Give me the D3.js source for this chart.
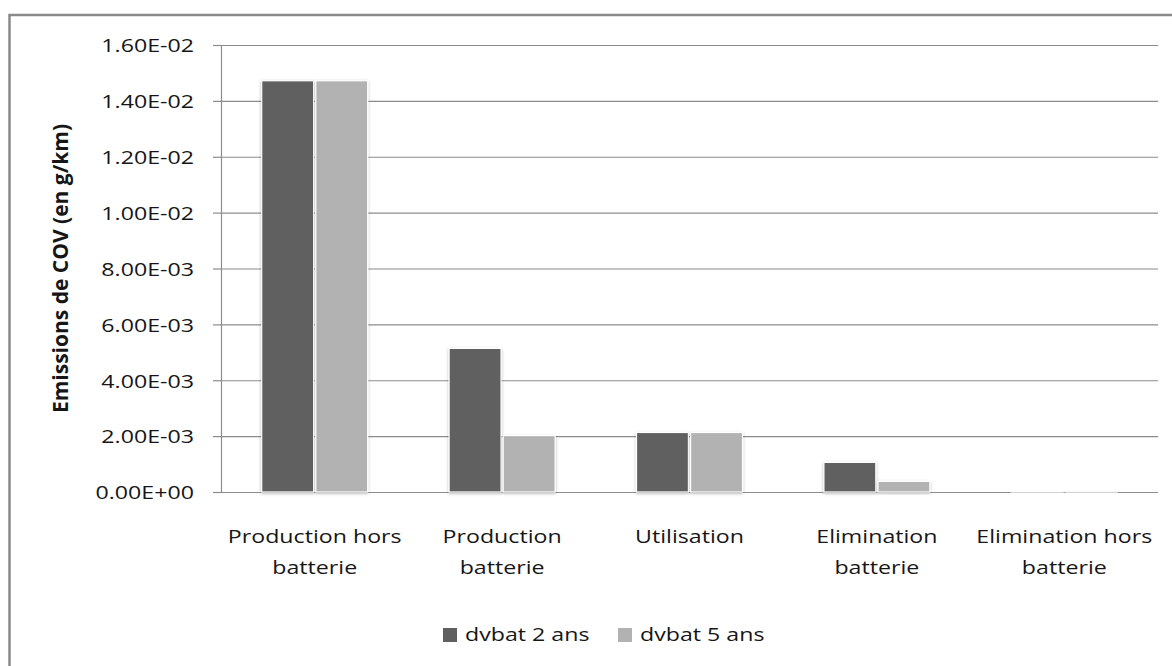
<!DOCTYPE html>
<html>
<head>
<meta charset="utf-8">
<script src="https://cdn.jsdelivr.net/npm/d3@7"></script>
<style>
  html, body { margin: 0; padding: 0; background: #fff; }
  svg { display: block; }
  text { font-family: "Open Sans", "Liberation Sans", sans-serif; fill: #161616; }
</style>
</head>
<body>
<svg id="chart" width="1172" height="666"></svg>
<script>
// ---- data ----
const categories = ["Production hors batterie", "Production batterie", "Utilisation", "Elimination batterie", "Elimination hors batterie"];
const categoryLines = [["Production hors", "batterie"], ["Production", "batterie"], ["Utilisation"], ["Elimination", "batterie"], ["Elimination hors", "batterie"]];
const seriesNames = ["dvbat 2 ans", "dvbat 5 ans"];
const dvbat2 = [1.472e-2, 5.14e-3, 2.13e-3, 1.06e-3, 1.5e-5];
const dvbat5 = [1.472e-2, 2.02e-3, 2.13e-3, 3.8e-4, 1.0e-5];
const yTicks = [0, 2e-3, 4e-3, 6e-3, 8e-3, 1e-2, 1.2e-2, 1.4e-2, 1.6e-2];
const yTitle = "Emissions de COV (en g/km)";
const colors = ["#606060", "#b2b2b2"];

// ---- layout ----
const W = 1172, H = 666;
const plot = { left: 221, right: 1158, top: 45, bottom: 492 };
const SX = 1.22; // horizontal text stretch of the original
const FS = "19px";

const svg = d3.select("#chart");
const defs = svg.append("defs");
const f = defs.append("filter").attr("id", "shadow").attr("x", "-20%").attr("y", "-20%").attr("width", "140%").attr("height", "140%");
f.append("feDropShadow").attr("dx", 0).attr("dy", 1).attr("stdDeviation", 1.6)
  .attr("flood-color", "#000").attr("flood-opacity", 0.3);

svg.append("rect").attr("x", 0).attr("y", 0).attr("width", W).attr("height", H).attr("fill", "#fff");
// outer frame
svg.append("rect").attr("x", 9.5).attr("y", 15).attr("width", 1200).attr("height", 700)
  .attr("fill", "none").attr("stroke", "#8a8a8a").attr("stroke-width", 2.5);

const x0 = d3.scaleBand().domain(categories).range([plot.left, plot.right]).paddingInner(0).paddingOuter(0);
const groupW = 106;
const x1 = d3.scaleBand().domain(seriesNames).range([0, groupW]).paddingInner(0.04);
const y = d3.scaleLinear().domain([0, 1.6e-2]).range([plot.bottom, plot.top]);

function fmtE(d) {
  if (d === 0) return "0.00E+00";
  const s = d3.format(".2e")(d); // e.g. 1.60e-2
  const [m, e] = s.split("e");
  const n = +e;
  return m + "E" + (n < 0 ? "-" : "+") + String(Math.abs(n)).padStart(2, "0");
}

// gridlines + y axis
const yAxis = d3.axisLeft(y).tickValues(yTicks).tickSize(8).tickFormat(fmtE);
const gy = svg.append("g").attr("transform", `translate(${plot.left},0)`).call(yAxis);
gy.select(".domain").attr("stroke", "#8c8c8c").attr("stroke-width", 1.2);
gy.selectAll(".tick line").attr("stroke", "#8c8c8c").attr("stroke-width", 1.2);
gy.selectAll(".tick text").remove();
gy.selectAll(".tick").append("line").attr("x1", 0).attr("x2", plot.right - plot.left)
  .attr("stroke", "#8c8c8c").attr("stroke-width", 1.2);
gy.selectAll(".tick").append("text")
  .attr("transform", `translate(${194 - plot.left},0) scale(${SX},1)`)
  .attr("text-anchor", "end").attr("dy", "0.36em")
  .style("font-size", FS)
  .text(d => fmtE(d));

// bars
const series = [dvbat2, dvbat5];
const groups = svg.append("g").selectAll("g").data(categories).join("g")
  .attr("transform", d => `translate(${x0(d) + (x0.bandwidth() - groupW) / 2},0)`);
groups.selectAll("rect").data((c, i) => seriesNames.map((s, k) => ({ s, v: series[k][i], k })))
  .join("rect")
  .attr("x", d => x1(d.s))
  .attr("y", d => y(d.v))
  .attr("width", x1.bandwidth())
  .attr("height", d => Math.max(0, y(0) - y(d.v)))
  .attr("fill", d => colors[d.k])
  .attr("stroke", "#fff").attr("stroke-width", 1.2)
  .attr("filter", "url(#shadow)");

// category labels
const lab = svg.append("g").selectAll("g").data(categories).join("g")
  .attr("transform", d => `translate(${x0(d) + x0.bandwidth() / 2},0)`);
lab.each(function (c, i) {
  d3.select(this).selectAll("text").data(categoryLines[i]).join("text")
    .attr("transform", (t, j) => `translate(0,${543 + j * 31}) scale(${SX},1)`)
    .attr("text-anchor", "middle")
    .style("font-size", FS)
    .text(t => t);
});

// y title
svg.append("text")
  .attr("transform", `translate(68,${(plot.top + plot.bottom) / 2}) rotate(-90)`)
  .attr("text-anchor", "middle")
  .style("font-size", "21px").style("font-weight", "bold")
  .text(yTitle);

// legend
const legX = [443, 618];
const leg = svg.append("g").selectAll("g").data(seriesNames).join("g")
  .attr("transform", (d, i) => `translate(${legX[i]},628)`);
leg.append("rect").attr("width", 14).attr("height", 14).attr("fill", (d, i) => colors[i]);
leg.append("text").attr("transform", `translate(22,13) scale(${SX},1)`)
  .style("font-size", FS).text(d => d);
</script>
</body>
</html>
